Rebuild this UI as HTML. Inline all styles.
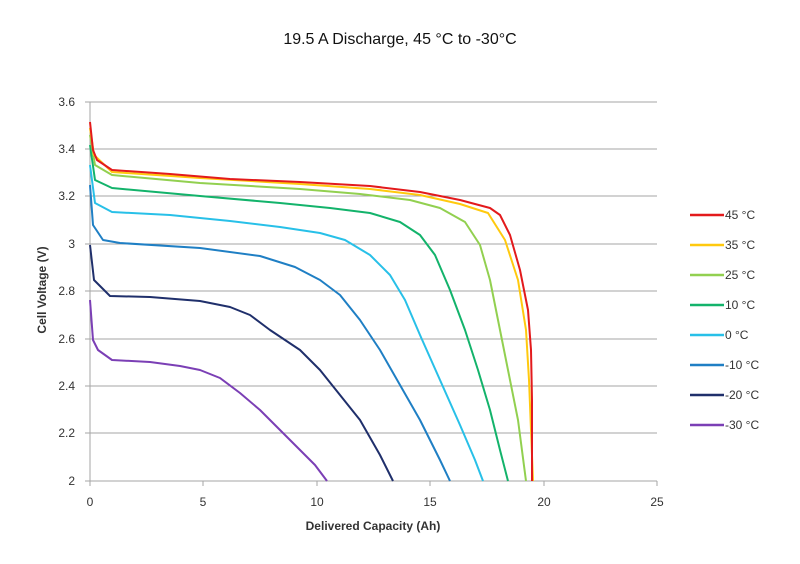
<!DOCTYPE html>
<html><head><style>body{margin:0;background:#fff}</style></head><body>
<svg width="800" height="559" xmlns="http://www.w3.org/2000/svg" font-family="Liberation Sans, sans-serif">
<rect width="800" height="559" fill="#fff"/>
<text x="400" y="44" font-size="16" text-anchor="middle" fill="#111">19.5 A Discharge, 45 °C to -30°C</text>
<g stroke="#a6a6a6" stroke-width="1">
<line x1="85" y1="102" x2="657" y2="102"/><line x1="85" y1="149" x2="657" y2="149"/>
<line x1="85" y1="196" x2="657" y2="196"/><line x1="85" y1="244" x2="657" y2="244"/>
<line x1="85" y1="291" x2="657" y2="291"/><line x1="85" y1="339" x2="657" y2="339"/>
<line x1="85" y1="386" x2="657" y2="386"/><line x1="85" y1="433" x2="657" y2="433"/>
<line x1="85" y1="481" x2="657" y2="481"/>
<line x1="90" y1="102" x2="90" y2="486"/>
<line x1="203" y1="481" x2="203" y2="486"/><line x1="317" y1="481" x2="317" y2="486"/>
<line x1="430" y1="481" x2="430" y2="486"/><line x1="544" y1="481" x2="544" y2="486"/><line x1="657" y1="481" x2="657" y2="486"/>
</g>
<g font-size="12" fill="#333" text-anchor="end">
<text x="75" y="106">3.6</text><text x="75" y="153">3.4</text><text x="75" y="200">3.2</text>
<text x="75" y="248">3</text><text x="75" y="295">2.8</text><text x="75" y="343">2.6</text>
<text x="75" y="390">2.4</text><text x="75" y="437">2.2</text><text x="75" y="485">2</text>
</g>
<g font-size="12" fill="#333" text-anchor="middle">
<text x="90" y="506">0</text><text x="203" y="506">5</text><text x="317" y="506">10</text>
<text x="430" y="506">15</text><text x="544" y="506">20</text><text x="657" y="506">25</text>
</g>
<text x="373" y="530" font-size="12" font-weight="bold" fill="#333" text-anchor="middle">Delivered Capacity  (Ah)</text>
<text transform="translate(46,290) rotate(-90)" font-size="12" font-weight="bold" fill="#333" text-anchor="middle">Cell Voltage  (V)</text>
<g fill="none" stroke-width="2" stroke-linejoin="round">
<polyline stroke="#7b3fb5" points="90,300 93,340 98,350 112,360 150,362 180,366 200,370 220,378 240,393 260,410 280,430 300,450 315,465 327,481"/>
<polyline stroke="#1f2f6b" points="90,245 94,280 110,296 150,297 200,301 230,307 250,315 270,330 300,350 320,370 340,395 360,420 380,455 393,481"/>
<polyline stroke="#1f7fc4" points="90,185 93,225 103,240 120,243 200,248 260,256 295,267 320,280 340,295 360,320 380,350 400,385 420,420 440,460 450,481"/>
<polyline stroke="#28c0e8" points="90,165 95,203 112,212 170,215 230,221 280,227 320,233 345,240 370,255 390,275 405,300 420,335 440,380 460,425 475,460 483,481"/>
<polyline stroke="#13b36b" points="90,145 95,180 112,188 200,196 280,203 330,208 370,213 400,222 420,235 435,255 450,290 465,330 478,370 490,410 500,450 508,481"/>
<polyline stroke="#92d050" points="90,135 95,165 112,175 200,183 300,189 360,194 410,200 440,208 465,222 480,245 490,280 500,330 510,380 518,420 526,481"/>
<polyline stroke="#ffc90e" points="90,128 94,155 112,172 200,178 300,184 370,189 420,195 460,204 488,213 505,240 518,280 526,330 529,380 531,430 533,481"/>
<polyline stroke="#e31a1c" points="90,122 93,150 97,160 112,170 170,174 230,179 300,182 370,186 420,192 460,200 490,208 500,215 510,235 520,270 528,310 531,350 532,400 532,481"/>
</g>
<g stroke-width="2.5">
<line x1="690" y1="215" x2="724" y2="215" stroke="#e31a1c"/>
<line x1="690" y1="245" x2="724" y2="245" stroke="#ffc90e"/>
<line x1="690" y1="275" x2="724" y2="275" stroke="#92d050"/>
<line x1="690" y1="305" x2="724" y2="305" stroke="#13b36b"/>
<line x1="690" y1="335" x2="724" y2="335" stroke="#28c0e8"/>
<line x1="690" y1="365" x2="724" y2="365" stroke="#1f7fc4"/>
<line x1="690" y1="395" x2="724" y2="395" stroke="#1f2f6b"/>
<line x1="690" y1="425" x2="724" y2="425" stroke="#7b3fb5"/>
</g>
<g font-size="12" fill="#333">
<text x="725" y="219">45 °C</text><text x="725" y="249">35 °C</text><text x="725" y="279">25 °C</text>
<text x="725" y="309">10 °C</text><text x="725" y="339">0 °C</text><text x="725" y="369">-10 °C</text>
<text x="725" y="399">-20 °C</text><text x="725" y="429">-30 °C</text>
</g>
</svg>
</body></html>
